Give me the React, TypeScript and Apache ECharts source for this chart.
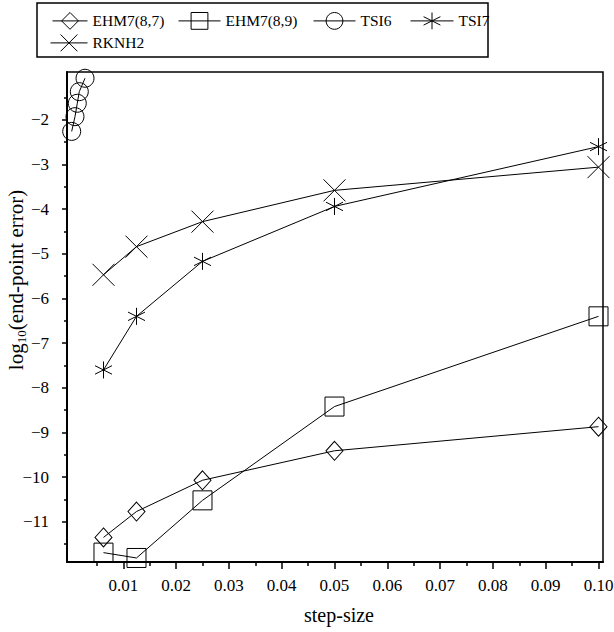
import React, { useEffect, useRef } from "react";
import * as echarts from "echarts";

const seriesNames = ["EHM7(8,7)", "EHM7(8,9)", "TSI6", "TSI7", "RKNH2"];
const stepSizes = [0.1, 0.05, 0.025, 0.0125, 0.00625];
const ehm787 = [-8.87, -9.41, -10.07, -10.77, -11.35];
const ehm789 = [-6.4, -8.42, -10.52, -11.81, -11.69];
const tsi7 = [-2.6, -3.94, -5.17, -6.4, -7.6];
const rknh2 = [-3.06, -3.58, -4.28, -4.84, -5.47];
const tsi6Steps = [0.00275, 0.00167, 0.00129, 0.00085, 0.00023];
const tsi6 = [-1.07, -1.37, -1.63, -1.93, -2.26];

const xMajorTicks = [0.01, 0.02, 0.03, 0.04, 0.05, 0.06, 0.07, 0.08, 0.09, 0.1];
const xMinorTicks = [0.005, 0.015, 0.025, 0.035, 0.045, 0.055, 0.065, 0.075, 0.085, 0.095];
const yMajorTicks = [-11, -10, -9, -8, -7, -6, -5, -4, -3, -2];
const yMinorTicks = [-11.5, -10.5, -9.5, -8.5, -7.5, -6.5, -5.5, -4.5, -3.5, -2.5, -1.5];

const X_MIN = -0.00066;
const X_MAX = 0.10085;
const Y_MIN = -11.9;
const Y_MAX = -0.93;

const FONT = "Liberation Serif";

const X_PATH = "path://M0 0L20 20M20 0L0 20";
const STAR_PATH = "path://M10 0L10 20M1.34 5L18.66 15M18.66 5L1.34 15";

export default function App() {
  const ref = useRef<HTMLDivElement>(null);
  useEffect(() => {
    if (!ref.current) return;
    const chart = echarts.init(ref.current, null, { renderer: "svg" });
    const pairs = (xs: number[], ys: number[]) => xs.map((x, i) => [x, ys[i]]);
    const symbols: any[] = ["diamond", "rect", "circle", STAR_PATH, X_PATH];
    const sizes: any[] = [[17, 19], 19, 18, 17, 22];
    const datas = [
      pairs(stepSizes, ehm787),
      pairs(stepSizes, ehm789),
      pairs(tsi6Steps, tsi6),
      pairs(stepSizes, tsi7),
      pairs(stepSizes, rknh2),
    ];
    const legendPos = [
      { left: 52, top: 12, w: 35 },
      { left: 178, top: 12, w: 42 },
      { left: 313, top: 12, w: 42 },
      { left: 410, top: 12, w: 43 },
      { left: 50, top: 34, w: 37 },
    ];
    const axisCommon = {
      type: "value",
      splitLine: { show: false },
    };
    const option: any = {
      animation: false,
      textStyle: { fontFamily: FONT, color: "#000" },
      grid: {
        left: 67,
        right: 11,
        top: 72,
        bottom: 70,
        outerBoundsMode: "none",
        containLabel: false,
        show: true,
        borderColor: "#000",
        borderWidth: 1.5,
      },
      graphic: [
        {
          type: "rect",
          shape: { x: 37, y: 3, width: 451, height: 54 },
          style: { fill: "none", stroke: "#000", lineWidth: 1.5 },
          silent: true,
        },
      ],
      legend: seriesNames.map((n, i) => ({
        data: [n],
        left: legendPos[i].left,
        top: legendPos[i].top,
        padding: 0,
        itemWidth: legendPos[i].w,
        itemHeight: 21,
        selectedMode: false,
        textStyle: { fontSize: 15.5, fontFamily: FONT, color: "#000" },
        itemStyle: { color: "transparent", borderColor: "#000", borderWidth: 1 },
        lineStyle: { color: "#000", width: 1 },
      })),
      xAxis: [
        {
          ...axisCommon,
          min: X_MIN,
          max: X_MAX,
          position: "bottom",
          name: "step-size",
          nameLocation: "middle",
          nameGap: 43,
          nameMoveOverlap: false,
          nameTextStyle: { fontSize: 20, fontFamily: FONT, color: "#000", padding: [0, 0, 0, 8] },
          axisLine: { show: true, onZero: false, lineStyle: { color: "#000", width: 2 } },
          axisTick: { show: true, length: 7, lineStyle: { color: "#000", width: 1.5 }, customValues: xMajorTicks },
          axisLabel: {
            customValues: xMajorTicks,
            formatter: (v: number) => v.toFixed(2),
            fontSize: 17,
            fontFamily: FONT,
            color: "#000",
            margin: 15,
          },
        },
        {
          ...axisCommon,
          min: X_MIN,
          max: X_MAX,
          position: "bottom",
          axisLine: { show: false, onZero: false },
          axisTick: { show: true, length: 4, lineStyle: { color: "#000", width: 1.5 }, customValues: xMinorTicks },
          axisLabel: { show: false },
        },
      ],
      yAxis: [
        {
          ...axisCommon,
          min: Y_MIN,
          max: Y_MAX,
          position: "left",
          name: "log{sub|10}(end-point error)",
          nameLocation: "middle",
          nameGap: 39,
          nameMoveOverlap: false,
          nameTextStyle: {
            fontSize: 21,
            fontFamily: FONT,
            color: "#000",
            padding: [0, 0, 0, 74],
            rich: { sub: { fontSize: 13, fontFamily: FONT, color: "#000", padding: [11, 0, 0, 0] } },
          },
          axisLine: { show: true, onZero: false, lineStyle: { color: "#000", width: 2 } },
          axisTick: { show: true, length: 5, lineStyle: { color: "#000", width: 1.5 }, customValues: yMajorTicks },
          axisLabel: {
            customValues: yMajorTicks,
            formatter: (v: number) => String(v).replace("-", "\u2212"),
            fontSize: 17,
            fontFamily: FONT,
            color: "#000",
            margin: 18,
          },
        },
        {
          ...axisCommon,
          min: Y_MIN,
          max: Y_MAX,
          position: "left",
          axisLine: { show: false, onZero: false },
          axisTick: { show: true, length: 3, lineStyle: { color: "#000", width: 1.5 }, customValues: yMinorTicks },
          axisLabel: { show: false },
        },
      ],
      series: seriesNames.map((n, i) => ({
        type: "line",
        name: n,
        data: datas[i],
        xAxisIndex: 0,
        yAxisIndex: 0,
        symbol: symbols[i],
        symbolSize: sizes[i],
        showAllSymbol: true,
        clip: false,
        color: "#000",
        lineStyle: { color: "#000", width: 1 },
        itemStyle: { color: "transparent", borderColor: "#000", borderWidth: 1 },
        emphasis: { disabled: true },
      })),
    };
    chart.setOption(option);
    return () => chart.dispose();
  }, []);
  return (
    <div
      ref={ref}
      style={{ position: "fixed", left: 0, top: 0, width: 614, height: 632, background: "#fff" }}
    />
  );
}
